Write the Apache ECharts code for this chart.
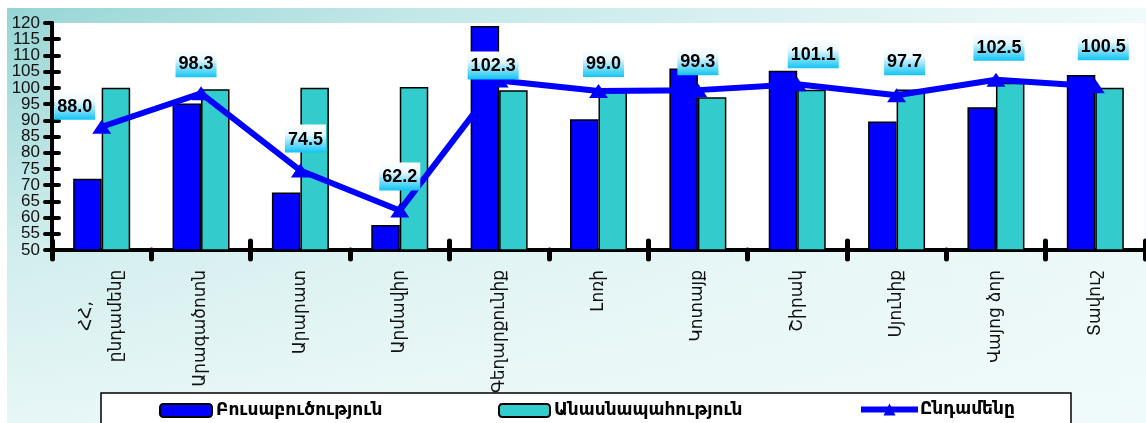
<!DOCTYPE html>
<html>
<head>
<meta charset="utf-8">
<script src="https://cdn.jsdelivr.net/npm/echarts@6/dist/echarts.min.js"></script>
<style>html,body{margin:0;padding:0;background:#fff}#c{width:1146px;height:423px}</style>
</head>
<body>
<div id="c"></div>
<script>
const categories = ['ՀՀ,\nընդամենը','Արագածոտն','Արարատ','Արմավիր','Գեղարքունիք','Լոռի','Կոտայք','Շիրակ','Սյունիք','Վայոց ձոր','Տավուշ'];
const seriesNames = ['Բուսաբուծություն','Անասնապահություն','Ընդամենը'];
const cropValues = [72, 95.2, 67.7, 57.7, 119.1, 90.3, 106.0, 105.3, 89.6, 94.0, 104.0];
const livestockValues = [100, 99.6, 100.0, 100.3, 99.3, 99.9, 97.1, 99.4, 99.5, 101.6, 100.0];
const totalValues = [88.0, 98.3, 74.5, 62.2, 102.3, 99.0, 99.3, 101.1, 97.7, 102.5, 100.5];
const yTicks = {min: 50, max: 120, interval: 5};

const chart = echarts.init(document.getElementById('c'));
const labelShift = [[-27,10],[-5,1],[5,-1],[0,-3],[-6,16],[5,3],[0,2],[16,1],[8,-3],[3,-2],[8,-9]];
const labelBg = new echarts.graphic.LinearGradient(0,0,0,1,[{offset:0,color:'#ffffff'},{offset:0.35,color:'#e8f8fe'},{offset:1,color:'#10c4f4'}]);
const totalData = totalValues.map((v,i)=>({value:v, label:{offset:labelShift[i]}}));

const yBase = {type:'value', min:yTicks.min, max:yTicks.max, interval:yTicks.interval, splitLine:{show:false}};
const yLabelStyle = {margin:12, fontFamily:'Liberation Sans', fontSize:17, color:'#111', hideOverlap:false};
const legendText = {fontFamily:'DejaVu Sans', fontSize:17, fontWeight:'bold', color:'#000'};
chart.setOption({
  animation:false,
  graphic:[
    {type:'rect', z:-10, shape:{x:7,y:8,width:1139,height:415},
     style:{fill:new echarts.graphic.LinearGradient(0,0,1,0,[{offset:0,color:'#96d5d5'},{offset:0.35,color:'#c2e7e7'},{offset:0.7,color:'#ddf2f2'},{offset:1,color:'#f0fafa'}])}},
    {type:'rect', z:-9, shape:{x:7,y:8,width:1139,height:415},
     style:{fill:new echarts.graphic.LinearGradient(0,0,0,1,[{offset:0,color:'rgba(236,248,248,0)'},{offset:0.6,color:'rgba(236,248,248,0.7)'},{offset:1,color:'rgba(240,250,250,0.9)'}])}},
    {type:'rect', z:5, shape:{x:101,y:393,width:970,height:40},
     style:{fill:'#ffffff', stroke:'#000', lineWidth:1.5}}
  ],
  grid:{left:52, right:1, top:23, bottom:173, show:true, backgroundColor:'#ffffff', borderWidth:0},
  legend:[
    {data:[seriesNames[0]], left:159, top:402, padding:0, itemWidth:52, itemHeight:13, z:10,
     textStyle:Object.assign({padding:[0,0,0,-1]}, legendText)},
    {data:[seriesNames[1]], left:498, top:402, padding:0, itemWidth:51, itemHeight:13, z:10,
     textStyle:Object.assign({padding:[0,0,0,-1]}, legendText)},
    {data:[seriesNames[2]], left:858, top:401, padding:0, itemWidth:57, itemHeight:15, z:10,
     lineStyle:{width:6},
     textStyle:Object.assign({padding:[0,0,0,-3]}, legendText)}
  ],
  xAxis:[
    {type:'category', data:categories, position:'bottom',
     axisLine:{lineStyle:{color:'#000', width:4}},
     axisTick:{show:true, length:9, lineStyle:{color:'#000', width:5, cap:'round'}},
     axisLabel:{rotate:90, margin:20, fontFamily:'DejaVu Sans', fontSize:17, color:'#111', lineHeight:30, interval:0,
       formatter:v=>v.indexOf('\n')>=0 ? v.split('\n').map(s=>'{c|'+s+'}').join('\n') : v,
       rich:{c:{width:92, align:'center', fontFamily:'DejaVu Sans', fontSize:17, color:'#111', lineHeight:30}}}},
    {type:'category', data:categories, position:'bottom',
     axisLine:{show:false},
     axisTick:{show:true, inside:true, length:9, lineStyle:{color:'#000', width:5, cap:'round'}},
     axisLabel:{show:false}}
  ],
  yAxis:[
    Object.assign({}, yBase, {
     axisLine:{show:true, lineStyle:{color:'#000', width:4}},
     axisTick:{show:true, length:7, lineStyle:{color:'#000', width:4, cap:'round'}},
     axisLabel:Object.assign({}, yLabelStyle, {showMinLabel:true, showMaxLabel:true,
       formatter:v=>(v%10===0 ? String(v) : '')})}),
    Object.assign({}, yBase, {position:'left',
     axisLine:{show:false},
     axisTick:{show:true, inside:true, length:7, lineStyle:{color:'#000', width:4, cap:'round'}},
     axisLabel:Object.assign({}, yLabelStyle, {showMinLabel:false, showMaxLabel:false,
       formatter:v=>(v%10===5 ? String(v) : '')})})
  ],
  series:[
    {name:seriesNames[0], type:'bar', data:cropValues, barWidth:28.5, barGap:'0%',
     itemStyle:{color:'#0000ff', borderColor:'#000', borderWidth:1.5}},
    {name:seriesNames[1], type:'bar', data:livestockValues, barWidth:28.5, barGap:'0%',
     itemStyle:{color:'#33cccc', borderColor:'#000', borderWidth:1.5}},
    {name:seriesNames[2], type:'line', data:totalData, z:5,
     lineStyle:{color:'#0000ff', width:6},
     itemStyle:{color:'#0000ff'},
     symbol:'triangle', symbolSize:[19,14],
     label:{show:true, position:'top', distance:10, formatter:p=>p.value.toFixed(1),
       fontFamily:'Liberation Sans', fontWeight:'bold', fontSize:18, color:'#000',
       backgroundColor:labelBg, padding:[6,3,4,3]}}
  ]
});
</script>
</body>
</html>
